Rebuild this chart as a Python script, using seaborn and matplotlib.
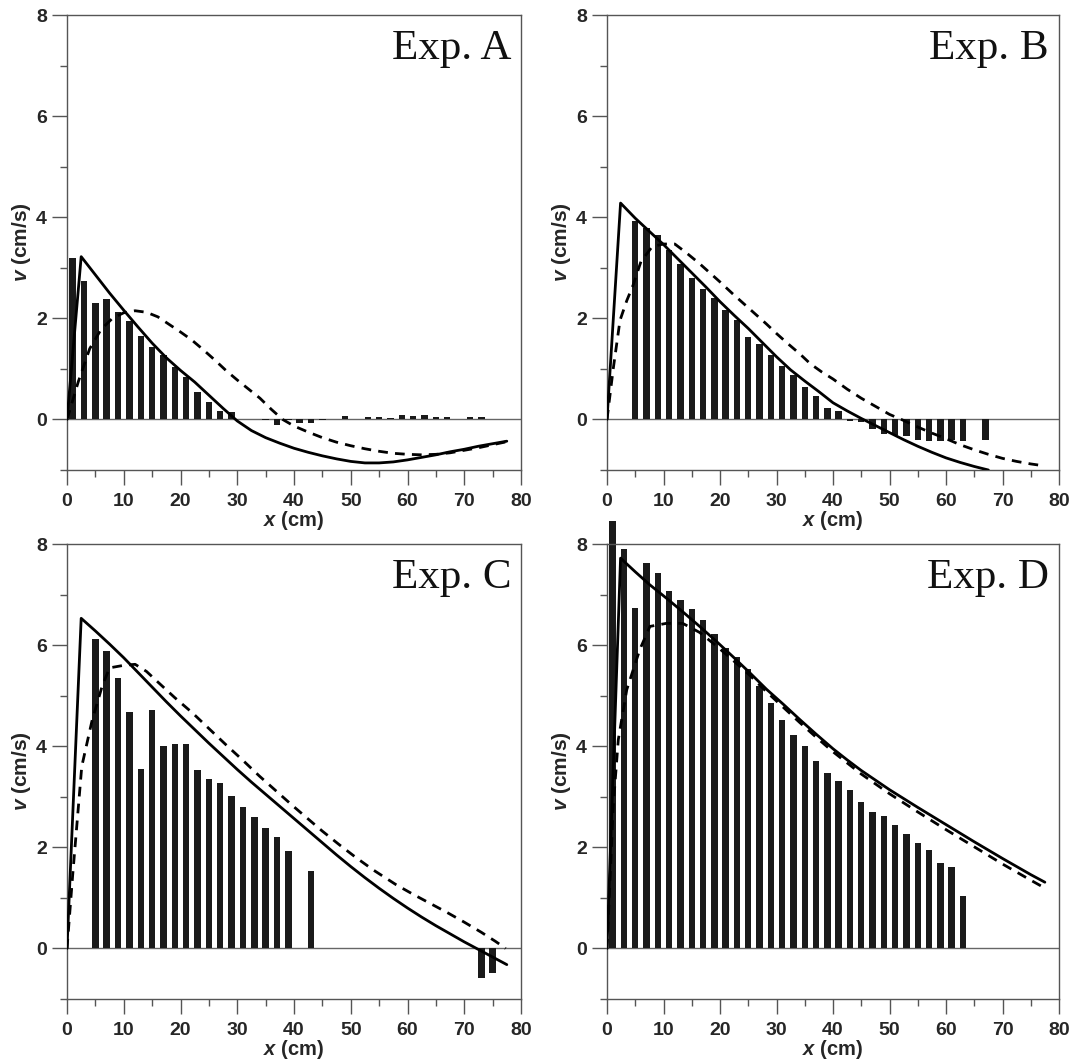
import numpy as np
import matplotlib
matplotlib.use("Agg")
import matplotlib.pyplot as plt
from matplotlib.ticker import MultipleLocator
import seaborn as sns

# ---------------- data ----------------
# Exp. A
xA_bars = [1, 3, 5, 7, 9, 11, 13, 15, 17, 19, 21, 23, 25, 27, 29, 31, 33, 35, 37, 39, 41, 43,
           45, 47, 49, 51, 53, 55, 57, 59, 61, 63, 65, 67, 69, 71, 73, 75]
vA_bars = [3.19, 2.73, 2.31, 2.39, 2.13, 1.94, 1.65, 1.44, 1.27, 1.03, 0.84, 0.55, 0.34, 0.16, 0.15,
           0.01, 0.0, -0.02, -0.10, -0.02, -0.08, -0.08, -0.02, 0.0, 0.06, 0.0, 0.05, 0.05, 0.02,
           0.08, 0.07, 0.08, 0.04, 0.05, 0.0, 0.05, 0.04, 0.0]
xA_solid = [0, 2.5, 5, 7.5, 10, 12.5, 15, 17.5, 20, 22.5, 25, 27.5, 30, 32.5, 35, 37.5, 40, 42.5, 45,
            47.5, 50, 52.5, 55, 57.5, 60, 62.5, 65, 67.5, 70, 72.5, 75, 77.5]
vA_solid = [0, 3.22, 2.86, 2.50, 2.16, 1.83, 1.51, 1.22, 0.97, 0.74, 0.48, 0.22, -0.03, -0.22, -0.36,
            -0.47, -0.57, -0.65, -0.72, -0.78, -0.83, -0.86, -0.86, -0.84, -0.80, -0.75, -0.70, -0.64,
            -0.59, -0.53, -0.48, -0.43]
xA_dash = [0, 2, 4, 6, 8, 10, 12, 14, 16, 18, 20, 22, 24, 26, 28, 30, 32, 34, 36, 38, 40, 42.5, 45,
           47.5, 50, 52.5, 55, 57.5, 60, 62.5, 65, 67.5, 70, 72.5, 75, 77.5]
vA_dash = [0, 0.75, 1.40, 1.78, 2.00, 2.11, 2.15, 2.12, 2.03, 1.88, 1.73, 1.57, 1.38, 1.18, 0.97, 0.78,
           0.60, 0.42, 0.20, 0.00, -0.13, -0.25, -0.36, -0.45, -0.52, -0.58, -0.63, -0.67, -0.69,
           -0.70, -0.69, -0.66, -0.61, -0.56, -0.50, -0.44]

# Exp. B
xB_bars = [5, 7, 9, 11, 13, 15, 17, 19, 21, 23, 25, 27, 29, 31, 33, 35, 37, 39, 41, 43, 45, 47, 49,
           51, 53, 55, 57, 59, 61, 63, 67]
vB_bars = [3.93, 3.78, 3.65, 3.36, 3.08, 2.79, 2.58, 2.40, 2.17, 1.96, 1.63, 1.49, 1.28, 1.06, 0.88,
           0.64, 0.47, 0.23, 0.16, -0.03, -0.05, -0.18, -0.28, -0.30, -0.32, -0.41, -0.43, -0.43,
           -0.41, -0.43, -0.41]
xB_solid = [0, 2.4, 5, 7.5, 10, 12.5, 15, 17.5, 20, 22.5, 25, 27.5, 30, 32.5, 35, 37.5, 40, 42.5, 45,
            47.5, 50, 52.5, 55, 57.5, 60, 62.5, 65, 67.5]
vB_solid = [0, 4.28, 3.98, 3.72, 3.46, 3.18, 2.90, 2.62, 2.33, 2.06, 1.80, 1.52, 1.24, 0.98, 0.76, 0.55,
            0.33, 0.17, 0.02, -0.12, -0.26, -0.40, -0.53, -0.65, -0.76, -0.85, -0.93, -1.00]
xB_dash = [0, 1.1, 2.3, 3.5, 4.6, 6, 8, 10, 12, 14, 16.4, 18, 20, 22.3, 25, 28.2, 30, 32, 34.1, 36, 38,
           40, 42.5, 45, 47.5, 50, 52.5, 55, 57.5, 60, 62.5, 65, 67.5, 70, 72.5, 75, 77.5]
vB_dash = [0, 1.00, 1.96, 2.35, 2.65, 3.12, 3.42, 3.47, 3.47, 3.30, 3.08, 2.92, 2.72, 2.48, 2.21, 1.89,
           1.70, 1.50, 1.30, 1.10, 0.94, 0.80, 0.60, 0.42, 0.26, 0.10, -0.02, -0.15, -0.27, -0.38,
           -0.50, -0.60, -0.69, -0.77, -0.83, -0.88, -0.92]

# Exp. C
xC_bars = [5, 7, 9, 11, 13, 15, 17, 19, 21, 23, 25, 27, 29, 31, 33, 35, 37, 39, 43, 73, 75]
vC_bars = [6.13, 5.88, 5.34, 4.68, 3.54, 4.72, 4.01, 4.05, 4.05, 3.52, 3.36, 3.28, 3.02, 2.79, 2.60,
           2.38, 2.20, 1.92, 1.54, -0.59, -0.48]
xC_solid = [0, 2.5, 5, 7.5, 10, 12.5, 15, 17.5, 20, 22.5, 25, 27.5, 30, 32.5, 35, 37.5, 40, 42.5, 45,
            47.5, 50, 52.5, 55, 57.5, 60, 62.5, 65, 67.5, 70, 72.5, 75, 77.5]
vC_solid = [0, 6.53, 6.28, 6.02, 5.75, 5.46, 5.17, 4.88, 4.60, 4.33, 4.06, 3.80, 3.54, 3.29, 3.05,
            2.81, 2.57, 2.33, 2.09, 1.85, 1.62, 1.40, 1.19, 0.99, 0.80, 0.62, 0.45, 0.29, 0.13, -0.02,
            -0.17, -0.32]
xC_dash = [0, 1, 2.6, 4.4, 6.2, 7.5, 10, 12, 14, 16.2, 19, 22.1, 25, 28, 31, 33.9, 37, 39.8, 42.5, 45,
           48, 50.9, 54, 58, 61, 64, 67, 70, 73, 75.5, 77.3]
vC_dash = [0, 1.45, 3.60, 4.50, 5.19, 5.55, 5.60, 5.62, 5.48, 5.25, 4.96, 4.66, 4.35, 4.03, 3.72,
           3.41, 3.10, 2.82, 2.56, 2.32, 2.05, 1.80, 1.55, 1.26, 1.07, 0.89, 0.71, 0.52, 0.32, 0.14,
           0.00]

# Exp. D
xD_bars = [1, 3, 5, 7, 9, 11, 13, 15, 17, 19, 21, 23, 25, 27, 29, 31, 33, 35, 37, 39, 41, 43, 45, 47,
           49, 51, 53, 55, 57, 59, 61, 63]
vD_bars = [8.45, 7.90, 6.74, 7.63, 7.42, 7.07, 6.90, 6.71, 6.49, 6.21, 5.95, 5.77, 5.52, 5.20, 4.86,
           4.51, 4.23, 4.00, 3.70, 3.47, 3.32, 3.13, 2.90, 2.70, 2.62, 2.44, 2.27, 2.08, 1.94, 1.69,
           1.61, 1.03]
xD_solid = [0, 2.4, 5, 7.5, 10.5, 13.5, 16.4, 19.4, 22.3, 25.3, 28.2, 31.2, 34.1, 37, 40, 42.5, 45,
            50, 55, 60, 65, 70, 75, 77.5]
vD_solid = [0, 7.72, 7.45, 7.20, 6.93, 6.65, 6.37, 6.07, 5.77, 5.45, 5.13, 4.83, 4.53, 4.24, 3.95,
            3.73, 3.52, 3.14, 2.79, 2.45, 2.11, 1.78, 1.46, 1.31]
xD_dash = [0, 1.1, 2, 3.5, 5.8, 7.6, 10.5, 13.4, 16.4, 19.4, 22.3, 25.3, 28.2, 31.2, 34.1, 37, 40,
           42.5, 45, 50, 55, 60, 65, 70, 75, 77.4]
vD_dash = [0, 2.81, 4.13, 5.12, 5.91, 6.37, 6.43, 6.43, 6.25, 5.98, 5.70, 5.40, 5.08, 4.77, 4.47,
           4.18, 3.89, 3.67, 3.45, 3.06, 2.70, 2.35, 2.01, 1.67, 1.35, 1.20]

panel_names = ["Exp. A", "Exp. B", "Exp. C", "Exp. D"]
panels = [
    (xA_bars, vA_bars, xA_solid, vA_solid, xA_dash, vA_dash),
    (xB_bars, vB_bars, xB_solid, vB_solid, xB_dash, vB_dash),
    (xC_bars, vC_bars, xC_solid, vC_solid, xC_dash, vC_dash),
    (xD_bars, vD_bars, xD_solid, vD_solid, xD_dash, vD_dash),
]

# ---------------- style ----------------
sns.set_style("ticks")
plt.rcParams["font.family"] = ["Liberation Sans", "DejaVu Sans"]
plt.rcParams["mathtext.fontset"] = "custom"
plt.rcParams["mathtext.it"] = "Liberation Sans:bold:italic"
plt.rcParams["mathtext.rm"] = "Liberation Sans:bold"

W, H = 1072, 1062
fig = plt.figure(figsize=(W / 100, H / 100), dpi=100)
boxes = [(67, 15, 521, 470), (607, 15, 1059, 470), (67, 544, 521, 999), (607, 544, 1059, 999)]

spine_col = "#555555"
bar_col = "#1a1a1a"

for (l, t, r, b), name, (xb, vb, xs, vs, xd, vd) in zip(boxes, panel_names, panels):
    ax = fig.add_axes([l / W, 1 - b / H, (r - l) / W, (b - t) / H])
    ax.axhline(0, color="#666666", lw=1.0, zorder=0.5)
    sns.barplot(x=xb, y=vb, native_scale=True, width=0.57, color=bar_col, saturation=1,
                errorbar=None, ax=ax, zorder=2, linewidth=0)
    for p in ax.patches:
        p.set_clip_on(False)
    sns.lineplot(x=xs, y=vs, ax=ax, color="black", lw=2.0, zorder=3)
    sns.lineplot(x=xd, y=vd, ax=ax, color="black", lw=2.0, zorder=3,
                 linestyle=(0, (3.5, 2.6)))
    ax.set_xlim(0, 80)
    ax.set_ylim(-1, 8)
    ax.xaxis.set_major_locator(MultipleLocator(10))
    ax.xaxis.set_minor_locator(MultipleLocator(5))
    ax.yaxis.set_major_locator(MultipleLocator(2))
    ax.yaxis.set_minor_locator(MultipleLocator(1))
    ax.tick_params(which="major", direction="out", length=10.5, width=1.0, color=spine_col,
                   labelsize=14)
    ax.tick_params(which="minor", direction="out", length=5.2, width=1.0, color=spine_col)
    ax.tick_params(axis="x", which="major", pad=6)
    ax.tick_params(axis="y", which="major", pad=4)
    for lab in ax.get_xticklabels() + ax.get_yticklabels():
        lab.set_fontweight("bold")
    for sp in ax.spines.values():
        sp.set_visible(True)
        sp.set_color(spine_col)
        sp.set_linewidth(1.0)
    ax.set_xlabel(r"$x$ (cm)", fontsize=14.5, fontweight="bold", labelpad=-1)
    ax.set_ylabel(r"$v$ (cm/s)", fontsize=15, fontweight="bold", labelpad=2)
    ax.text(0.978, 0.968, name, transform=ax.transAxes, ha="right", va="top",
            fontfamily="Liberation Serif", fontsize=31, color="#111111")
    ax.grid(False)

fig.savefig("out.png", dpi=100)
